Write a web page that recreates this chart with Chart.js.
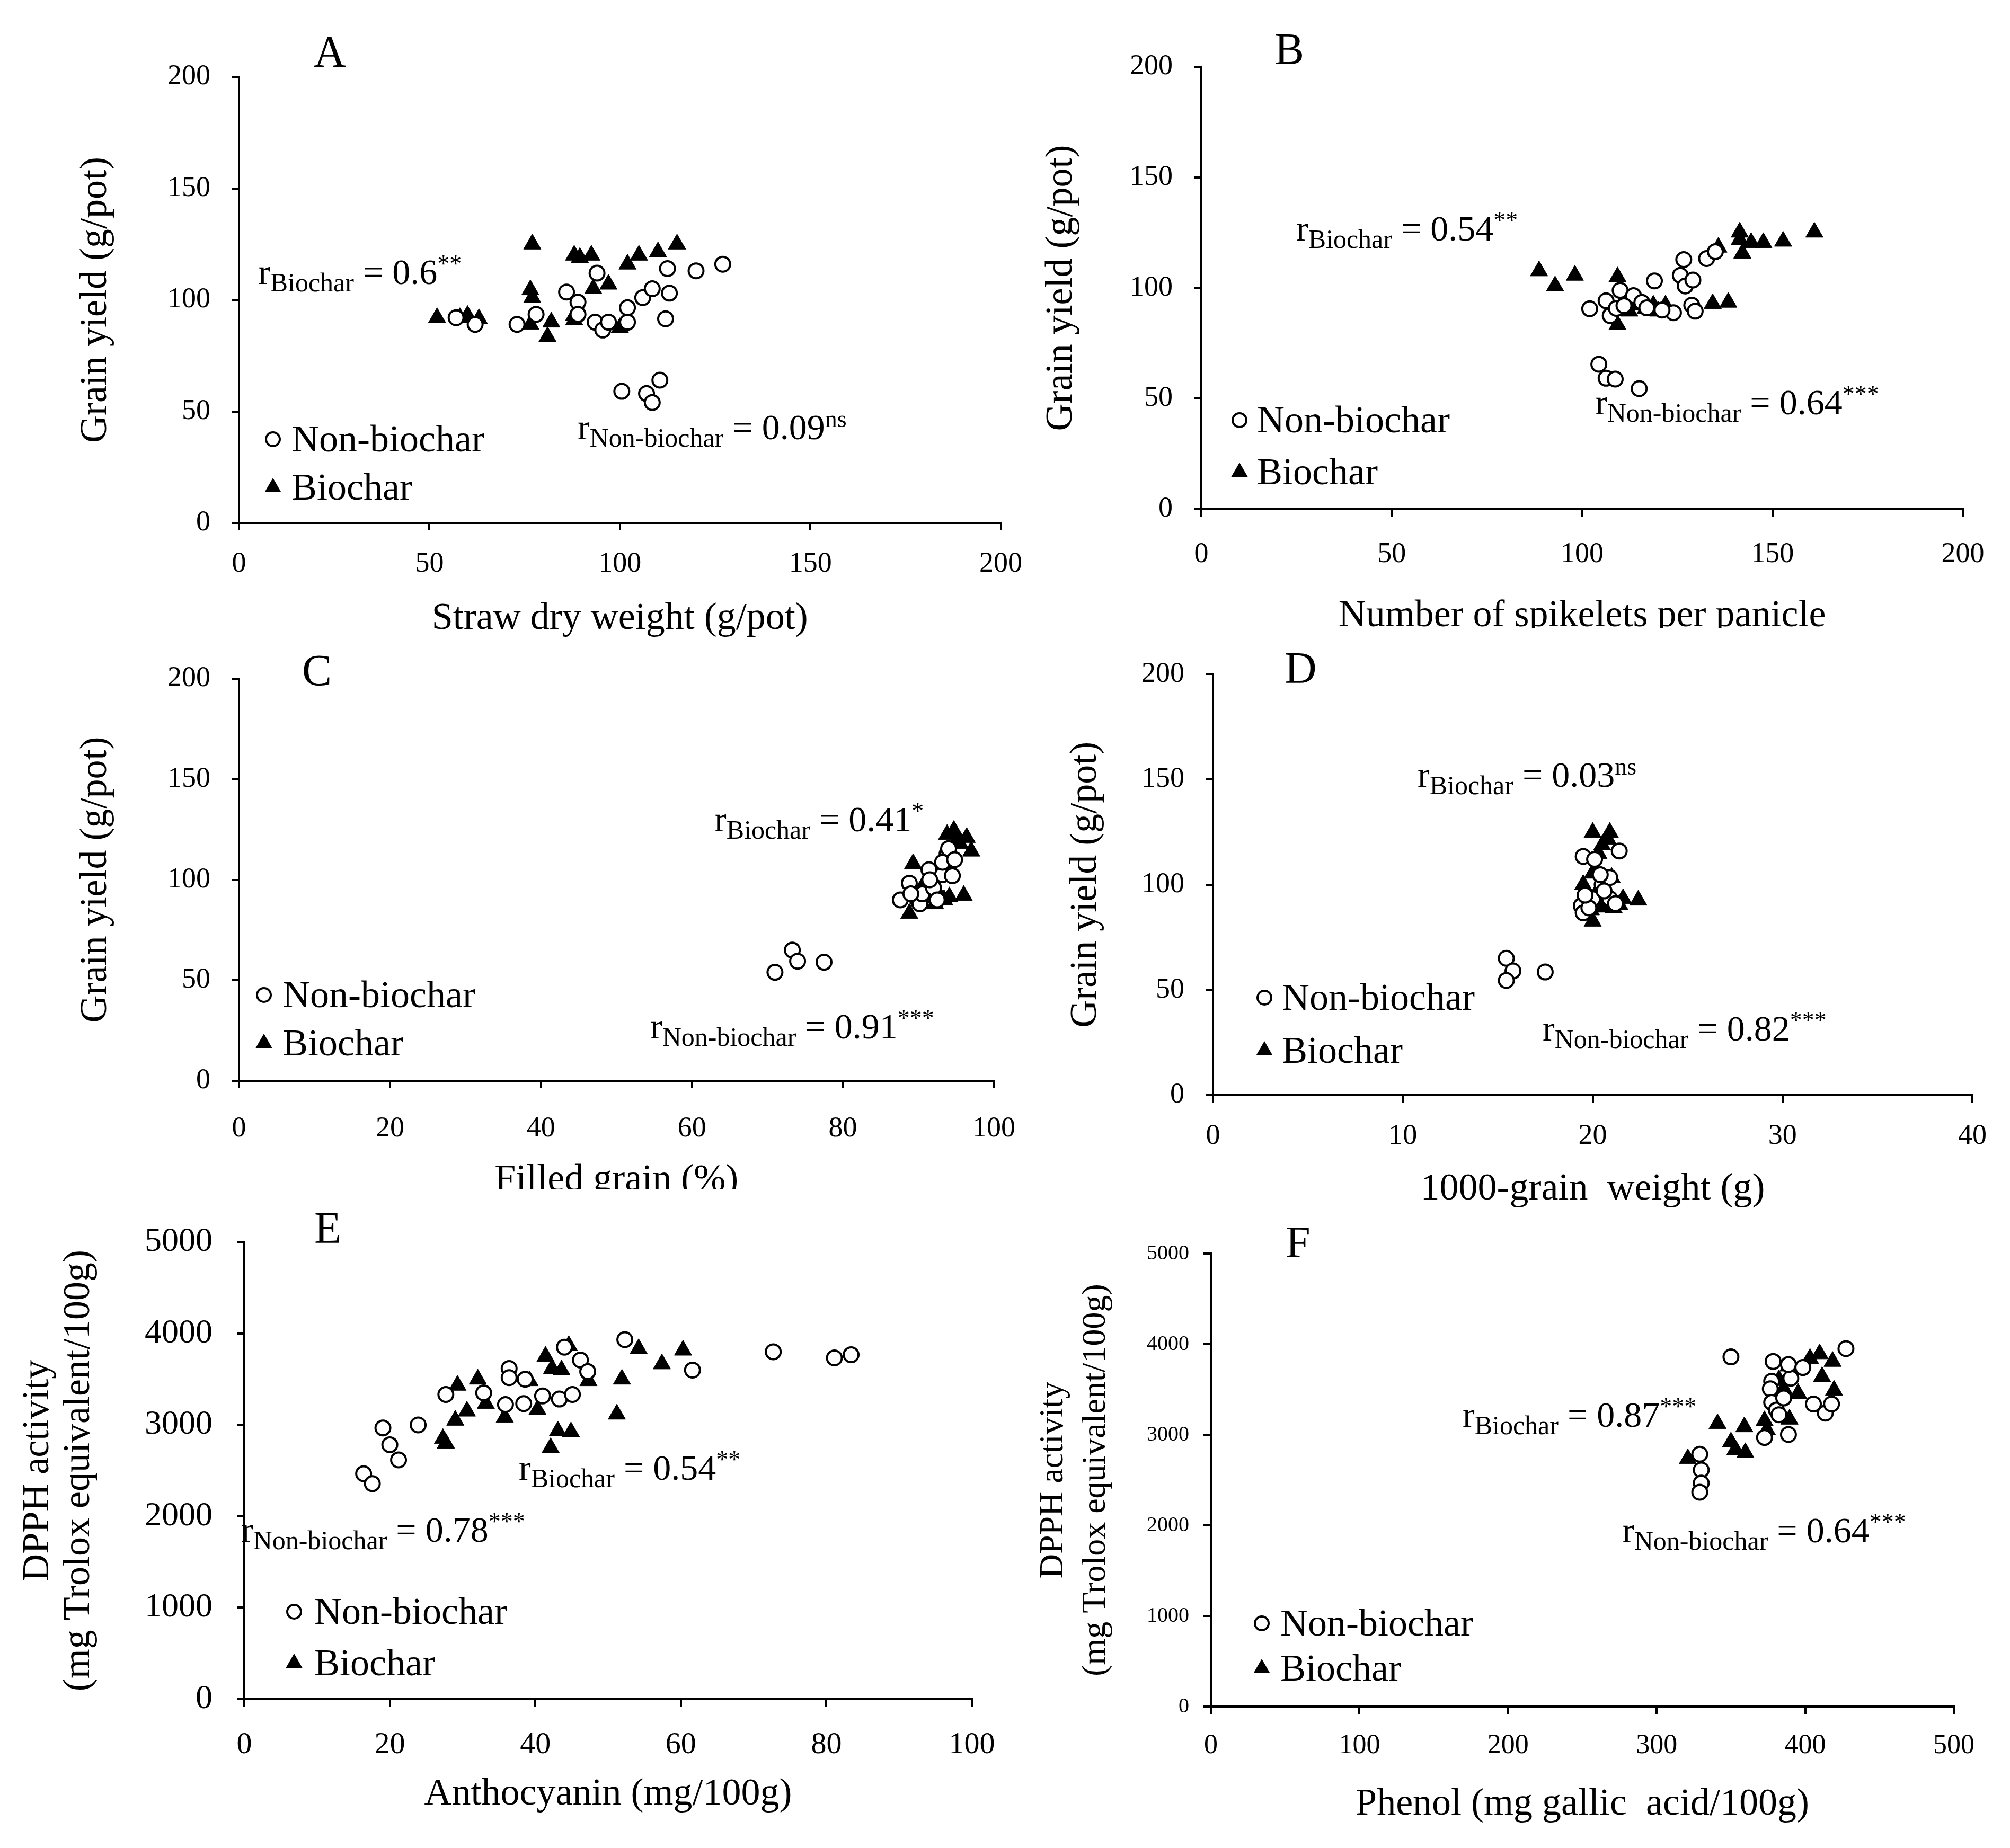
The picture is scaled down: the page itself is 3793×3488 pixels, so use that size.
<!DOCTYPE html>
<html>
<head>
<meta charset="utf-8">
<script src="https://cdn.jsdelivr.net/npm/chart.js"></script>
<style>
  html, body { margin: 0; padding: 0; background: #fff; }
  body { position: relative; width: 3793px; height: 3488px; overflow: hidden; }
  .clip { position: absolute; overflow: hidden; }
</style>
</head>
<body>
<script>
// ---- data ----
// A: straw dry weight vs grain yield
const aNonX = [57, 62, 73, 78, 86, 89, 89, 94, 93.5, 95.5, 97, 102, 102, 106, 108.5, 113, 112.5, 112, 120, 127, 100.5, 107, 110.5, 108.5];
const aNonY = [92, 89, 89, 93.5, 103.5, 99, 93.5, 112, 90, 86.5, 90, 96.5, 90, 101, 105, 103, 114, 91.5, 113, 116, 59, 58, 64, 54];
const aBioX = [52, 58, 60, 63, 77, 76.5, 77, 76.5, 82, 81, 88, 89.5, 92.5, 93, 97, 88, 88, 100, 102, 105, 110, 115];
const aBioY = [92, 92, 93, 91.5, 125, 104.5, 101, 89, 90, 83.5, 120, 119, 120, 105, 107, 93, 91, 87.5, 116, 120, 121.5, 125];

// B: spikelets per panicle vs grain yield
const bNonX = [102, 106.3, 107.4, 109, 110, 113.5, 115.7, 119, 124, 125.8, 126.7, 127.1, 129.1, 128.8, 129.7, 132.7, 135, 111, 117, 121, 104.4, 106.3, 108.7, 115];
const bNonY = [90.6, 94.2, 87.5, 90.8, 98.9, 96.5, 93.5, 103.2, 88.8, 105.7, 112.8, 100.9, 103.6, 92.2, 89.5, 113.3, 116.4, 92, 91, 90, 65.5, 59.2, 58.8, 54.5];
const bBioX = [88.7, 92.9, 98.1, 109.3, 109.3, 112.4, 113.5, 116.7, 118.7, 120, 121.9, 134.3, 138.4, 135.8, 141.4, 142.1, 141.4, 144.4, 147.6, 152.8, 161];
const bBioY = [107.7, 100.9, 105.7, 105, 83.4, 89.5, 92.2, 90.8, 92.2, 89.5, 92.2, 92.9, 93.5, 118.4, 125.2, 115.7, 121.8, 120.5, 120.5, 121.1, 125.2];

// C: filled grain vs grain yield
const cNonX = [71, 73.3, 74, 77.5, 87.6, 88.8, 89.9, 90.2, 91.4, 93.2, 94.5, 93.8, 94, 93.2, 90.5, 92, 89, 91.5, 94.8, 92.5];
const cNonY = [54, 65, 59.5, 59, 90, 98.3, 90, 88, 105, 102.5, 102, 112.8, 115.5, 108.7, 93, 96, 93, 100, 110, 90];
const cBioX = [89.3, 88.8, 90.9, 91.5, 92.8, 92.2, 94.1, 96, 94.7, 96.4, 97, 94.2, 93.8, 95.1, 90.2, 93.4, 91.8, 95.5];
const cBioY = [108, 83.2, 99, 90.8, 92.2, 88, 91.5, 92.2, 124.5, 121, 114.2, 106, 122.5, 119.7, 89.4, 90.1, 95, 118];

// D: 1000-grain weight vs grain yield
const dNonX = [15.45, 15.8, 15.45, 17.5, 19.5, 20.1, 21.4, 19.4, 19.5, 20, 20.5, 20.9, 20.4, 20.9, 19.8, 21.2, 20.6, 19.6];
const dNonY = [65, 59, 54.5, 58.5, 113.4, 112, 116, 90, 86.6, 93.3, 100, 103.4, 104.7, 93.3, 89, 91, 97, 95];
const dBioX = [20, 20.9, 20.5, 20, 19.5, 21, 21.6, 22.4, 20, 20.5, 19.7, 21.4, 20.8, 20.3, 20.2, 21.1, 20.7, 19.9];
const dBioY = [124.8, 124.8, 118.8, 105.4, 100, 103.4, 93.3, 92.6, 82.6, 89.3, 89.3, 90.6, 121.5, 114.8, 96, 89, 91, 88];

// E: anthocyanin vs DPPH
const eNonX = [16.4, 17.6, 19.05, 20, 21.2, 23.9, 27.7, 32.9, 35.9, 36.4, 36.4, 38.4, 38.6, 41, 43.3, 44, 45.1, 46.2, 47.2, 52.3, 61.6, 72.7, 81.1, 83.4];
const eNonY = [2467, 2357, 2967, 2783, 2617, 3000, 3333, 3350, 3223, 3617, 3517, 3233, 3500, 3317, 3283, 3850, 3333, 3710, 3583, 3933, 3600, 3800, 3733, 3767];
const eBioX = [27.3, 27.7, 29.3, 32.1, 29, 30.6, 33.2, 35.8, 39.2, 40.3, 41.4, 42.3, 43.6, 44.6, 43.1, 44.9, 42.1, 47.3, 51.9, 51.2, 54.2, 57.4, 60.3];
const eBioY = [2850, 2800, 3433, 3500, 3050, 3150, 3233, 3083, 3483, 3167, 3750, 3617, 3600, 3867, 2933, 2923, 2750, 3483, 3500, 3117, 3833, 3667, 3817];

// F: phenol vs DPPH
const fNonX = [350, 378.4, 377.4, 376.5, 377.4, 380.6, 372.6, 388.7, 390.3, 388.7, 398.4, 405.5, 413.5, 417.7, 427.4, 382.3, 329, 330, 330, 329, 385.5];
const fNonY = [3859, 3809, 3591, 3507, 3356, 3272, 2970, 3003, 3624, 3775, 3742, 3339, 3238, 3339, 3950, 3221, 2785, 2611, 2466, 2366, 3406];
const fBioX = [321, 341, 350, 353, 359.7, 359, 372.6, 374.2, 382.3, 385.5, 388.7, 395.2, 389.4, 403.2, 409.7, 418.4, 411.3, 419.4];
const fBioY = [2735, 3121, 2919, 2836, 2802, 3087, 3154, 3054, 3607, 3507, 3758, 3456, 3171, 3842, 3893, 3809, 3641, 3490];

// axis ranges [min, max, step]
const yieldAxis = [0, 200, 50];
const dpphAxis = [0, 5000, 1000];

const FONT = '"Liberation Serif", "Times New Roman", serif';

function pts(xs, ys) {
  return xs.map((x, i) => ({ x: x, y: ys[i] }));
}

function drawR(ctx, x, y, sub, val, sup) {
  ctx.fillStyle = '#000';
  ctx.textAlign = 'left';
  ctx.textBaseline = 'alphabetic';
  ctx.font = '68px ' + FONT;
  ctx.fillText('r', x, y);
  x += ctx.measureText('r').width;
  ctx.font = '50px ' + FONT;
  ctx.fillText(sub, x, y + 14);
  x += ctx.measureText(sub).width;
  ctx.font = '68px ' + FONT;
  const main = ' = ' + val;
  ctx.fillText(main, x, y);
  x += ctx.measureText(main).width;
  ctx.font = '46px ' + FONT;
  ctx.fillText(sup, x, y - 23);
}

function circleMark(ctx, x, y) {
  ctx.beginPath();
  ctx.arc(x, y, 13, 0, Math.PI * 2);
  ctx.fillStyle = '#fff';
  ctx.fill();
  ctx.lineWidth = 4;
  ctx.strokeStyle = '#000';
  ctx.stroke();
}

function triMark(ctx, x, y) {
  const r = 18;
  ctx.beginPath();
  ctx.moveTo(x, y - r);
  ctx.lineTo(x + r * 0.866, y + r * 0.5);
  ctx.lineTo(x - r * 0.866, y + r * 0.5);
  ctx.closePath();
  ctx.fillStyle = '#000';
  ctx.fill();
}

function makePanel(p) {
  const [cx, cy, cw, ch] = p.box;
  const [l, t, r, b] = p.area;
  const holder = document.createElement('div');
  holder.className = 'clip';
  holder.style.left = cx + 'px';
  holder.style.top = cy + 'px';
  holder.style.width = cw + 'px';
  holder.style.height = (p.clipH || ch) + 'px';
  const cv = document.createElement('canvas');
  cv.width = cw; cv.height = ch;
  cv.style.width = cw + 'px'; cv.style.height = ch + 'px';
  holder.appendChild(cv);
  document.body.appendChild(holder);

  const yLh = p.yTitleSize * p.yTitleLh;
  const yLeft = p.yTitleX - yLh / 2;
  const xLh = 72 * 1.2;
  const xBottom = p.xTitleY + xLh / 2;

  const ox = cx, oy = cy;
  const annot = {
    id: 'annot' + p.letter,
    afterDraw(chart) {
      const ctx = chart.ctx;
      ctx.save();
      ctx.fillStyle = '#000';
      ctx.textAlign = 'left';
      ctx.textBaseline = 'alphabetic';
      ctx.font = '84px ' + FONT;
      ctx.fillText(p.letter, p.letterPos[0] - ox, p.letterPos[1] - oy);
      drawR(ctx, p.rBio[0] - ox, p.rBio[1] - oy, 'Biochar', p.rBio[2], p.rBio[3]);
      drawR(ctx, p.rNon[0] - ox, p.rNon[1] - oy, 'Non-biochar', p.rNon[2], p.rNon[3]);
      const lg = p.legend;
      circleMark(ctx, lg[0] - ox, lg[1] - oy);
      triMark(ctx, lg[0] - ox, lg[2] - oy);
      ctx.fillStyle = '#000';
      ctx.font = '72px ' + FONT;
      ctx.textBaseline = 'middle';
      ctx.fillText('Non-biochar', lg[3] - ox, lg[1] - oy + 4);
      ctx.fillText('Biochar', lg[3] - ox, lg[2] - oy + 4);
      ctx.restore();
    }
  };

  const grid = { drawOnChartArea: false, drawTicks: true, tickLength: 14, color: '#000', lineWidth: 4 };
  const border = { display: true, color: '#000', width: 4 };
  const plain = v => String(v);

  new Chart(cv, {
    type: 'scatter',
    data: {
      datasets: [
        {
          label: 'Non-biochar',
          data: pts(p.nonX, p.nonY),
          pointStyle: 'circle',
          pointRadius: 14,
          pointBorderWidth: 4,
          pointBackgroundColor: '#fff',
          pointBorderColor: '#000'
        },
        {
          label: 'Biochar',
          data: pts(p.bioX, p.bioY),
          pointStyle: 'triangle',
          pointRadius: 19,
          pointBorderWidth: 1,
          pointBackgroundColor: '#000',
          pointBorderColor: '#000'
        }
      ]
    },
    options: {
      responsive: false,
      animation: false,
      devicePixelRatio: 1,
      layout: {
        padding: { left: yLeft - cx, top: t - cy, right: cx + cw - r, bottom: cy + ch - xBottom }
      },
      plugins: { legend: { display: false }, tooltip: { enabled: false } },
      scales: {
        x: {
          type: 'linear',
          min: p.xAxis[0], max: p.xAxis[1],
          ticks: { stepSize: p.xAxis[2], color: '#000', padding: p.xTickPad, callback: plain, font: { family: FONT, size: p.xTickSize } },
          grid: grid,
          border: border,
          title: { display: true, text: p.xTitle, color: '#000', padding: 0, font: { family: FONT, size: 72, lineHeight: 1.2 } },
          afterFit(s) { s.height = xBottom - b; }
        },
        y: {
          type: 'linear',
          min: p.yAxis[0], max: p.yAxis[1],
          ticks: { stepSize: p.yAxis[2], color: '#000', padding: p.yTickPad, callback: plain, font: { family: FONT, size: p.yTickSize } },
          grid: grid,
          border: border,
          title: { display: true, text: p.yTitle, color: '#000', padding: 0, font: { family: FONT, size: p.yTitleSize, lineHeight: p.yTitleLh } },
          afterFit(s) { s.width = l - yLeft; }
        }
      }
    },
    plugins: [annot]
  });
}

const yieldTitle = 'Grain yield (g/pot)';
const dpphTitle = ['DPPH activity', '(mg Trolox equivalent/100g)'];

makePanel({
  letter: 'A', letterPos: [592, 126],
  box: [0, 0, 1960, 1240], area: [451, 145, 1889, 987],
  nonX: aNonX, nonY: aNonY, bioX: aBioX, bioY: aBioY,
  xAxis: [0, 200, 50], yAxis: yieldAxis,
  xTitle: 'Straw dry weight (g/pot)', xTitleY: 1168,
  yTitle: yieldTitle, yTitleX: 181, yTitleSize: 72, yTitleLh: 1.2,
  xTickSize: 54, xTickPad: 31, yTickSize: 54, yTickPad: 40,
  rBio: [487, 536, '0.6', '**'], rNon: [1090, 829, '0.09', 'ns'],
  legend: [515, 829, 920, 550]
});

makePanel({
  letter: 'B', letterPos: [2405, 121],
  box: [1900, 0, 1893, 1300], clipH: 1186, area: [2267, 126, 3704, 961],
  nonX: bNonX, nonY: bNonY, bioX: bBioX, bioY: bBioY,
  xAxis: [0, 200, 50], yAxis: yieldAxis,
  xTitle: 'Number of spikelets per panicle', xTitleY: 1163,
  yTitle: yieldTitle, yTitleX: 2003, yTitleSize: 72, yTitleLh: 1.2,
  xTickSize: 54, xTickPad: 39, yTickSize: 54, yTickPad: 40,
  rBio: [2446, 454, '0.54', '**'], rNon: [3010, 782, '0.64', '***'],
  legend: [2339, 793, 891, 2372]
});

makePanel({
  letter: 'C', letterPos: [570, 1294],
  box: [0, 1200, 1960, 1150], clipH: 1045, area: [451, 1281, 1889, 2040],
  nonX: cNonX, nonY: cNonY, bioX: cBioX, bioY: cBioY,
  xAxis: [0, 100, 20], yAxis: yieldAxis,
  xTitle: 'Filled grain (%)', xTitleY: 2228,
  yTitle: yieldTitle, yTitleX: 181, yTitleSize: 72, yTitleLh: 1.2,
  xTickSize: 54, xTickPad: 44, yTickSize: 54, yTickPad: 40,
  rBio: [1348, 1569, '0.41', '*'], rNon: [1227, 1960, '0.91', '***'],
  legend: [498, 1878, 1969, 533]
});

makePanel({
  letter: 'D', letterPos: [2424, 1289],
  box: [1900, 1200, 1893, 1100], area: [2289, 1260, 3722, 2067],
  nonX: dNonX, nonY: dNonY, bioX: dBioX, bioY: dBioY,
  xAxis: [0, 40, 10], yAxis: yieldAxis,
  xTitle: '1000-grain  weight (g)', xTitleY: 2245,
  yTitle: yieldTitle, yTitleX: 2049, yTitleSize: 72, yTitleLh: 1.2,
  xTickSize: 54, xTickPad: 31, yTickSize: 54, yTickPad: 40,
  rBio: [2675, 1485, '0.03', 'ns'], rNon: [2911, 1964, '0.82', '***'],
  legend: [2386, 1883, 1983, 2419]
});

makePanel({
  letter: 'E', letterPos: [593, 2346],
  box: [0, 2260, 1960, 1228], area: [461, 2326, 1834, 3207],
  nonX: eNonX, nonY: eNonY, bioX: eBioX, bioY: eBioY,
  xAxis: [0, 100, 20], yAxis: dpphAxis,
  xTitle: 'Anthocyanin (mg/100g)', xTitleY: 3387,
  yTitle: dpphTitle, yTitleX: 72, yTitleSize: 72, yTitleLh: 1.07,
  xTickSize: 58, xTickPad: 38, yTickSize: 64, yTickPad: 46,
  rBio: [979, 2793, '0.54', '**'], rNon: [455, 2910, '0.78', '***'],
  legend: [555, 3042, 3139, 593]
});

makePanel({
  letter: 'F', letterPos: [2426, 2373],
  box: [1900, 2260, 1893, 1228], area: [2285, 2366, 3687, 3221],
  nonX: fNonX, nonY: fNonY, bioX: fBioX, bioY: fBioY,
  xAxis: [0, 500, 100], yAxis: dpphAxis,
  xTitle: 'Phenol (mg gallic  acid/100g)', xTitleY: 3406,
  yTitle: dpphTitle, yTitleX: 1988, yTitleSize: 64, yTitleLh: 1.25,
  xTickSize: 52, xTickPad: 29, yTickSize: 40, yTickPad: 27,
  rBio: [2760, 2693, '0.87', '***'], rNon: [3061, 2911, '0.64', '***'],
  legend: [2381, 3064, 3149, 2416]
});
</script>
</body>
</html>
